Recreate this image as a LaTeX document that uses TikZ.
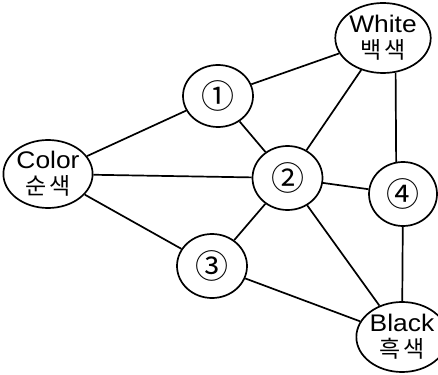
\documentclass[tikz,border=0pt]{standalone}
\usepackage{fontspec}
\setmainfont{Liberation Sans}
\newfontfamily\kfont{Noto Sans CJK KR}
\usetikzlibrary{shapes.geometric}
\newcommand\hangul[1]{{\kfont\fontsize{23}{23}\selectfont #1}}
\newcommand\widetxt[1]{\scalebox{1.1}[1]{#1}}
\begin{document}
\begin{tikzpicture}[x=1pt,y=-1pt,
  bubble/.style={draw, ellipse, line width=1.7pt, inner sep=0pt,
    minimum width=70pt, minimum height=64pt, align=center,
    font=\fontsize{24}{25}\selectfont},
  num/.style={bubble, font=\kfont\fontsize{33}{33}\selectfont},
  link/.style={line width=1.7pt}]
\useasboundingbox (0,0) rectangle (438,374);
\node[bubble, minimum width=74pt, minimum height=70pt] (white) at (383,38)
  {\widetxt{White}\\[1pt]\hangul{백\hspace{3pt}색}};
\node[bubble, minimum width=75pt, minimum height=68pt] (color) at (48,174)
  {\widetxt{Color}\\[1pt]\hangul{순\hspace{3pt}색}};
\node[bubble, minimum width=71pt, minimum height=70pt] (black) at (402,337)
  {\widetxt{Black}\\[1pt]\hangul{흑\hspace{3pt}색}};
\node[num, minimum height=62pt] (one) at (218,96) {①};
\node[num] (two) at (287.5,178) {②};
\node[num] (three) at (212,266) {③};
\node[num, minimum width=68pt] (four) at (403,194) {④};
\draw[link] (color) -- (one);
\draw[link] (color) -- (two);
\draw[link] (color) -- (three);
\draw[link] (one) -- (white);
\draw[link] (one) -- (two);
\draw[link] (white) -- (two);
\draw[link] (white.-70) -- (four.102);
\draw[link] (two) -- (four);
\draw[link] (two) -- (three);
\draw[link] (two) -- (black);
\draw[link] (three) -- (black);
\draw[link] (four) -- (black);
\end{tikzpicture}
\end{document}
